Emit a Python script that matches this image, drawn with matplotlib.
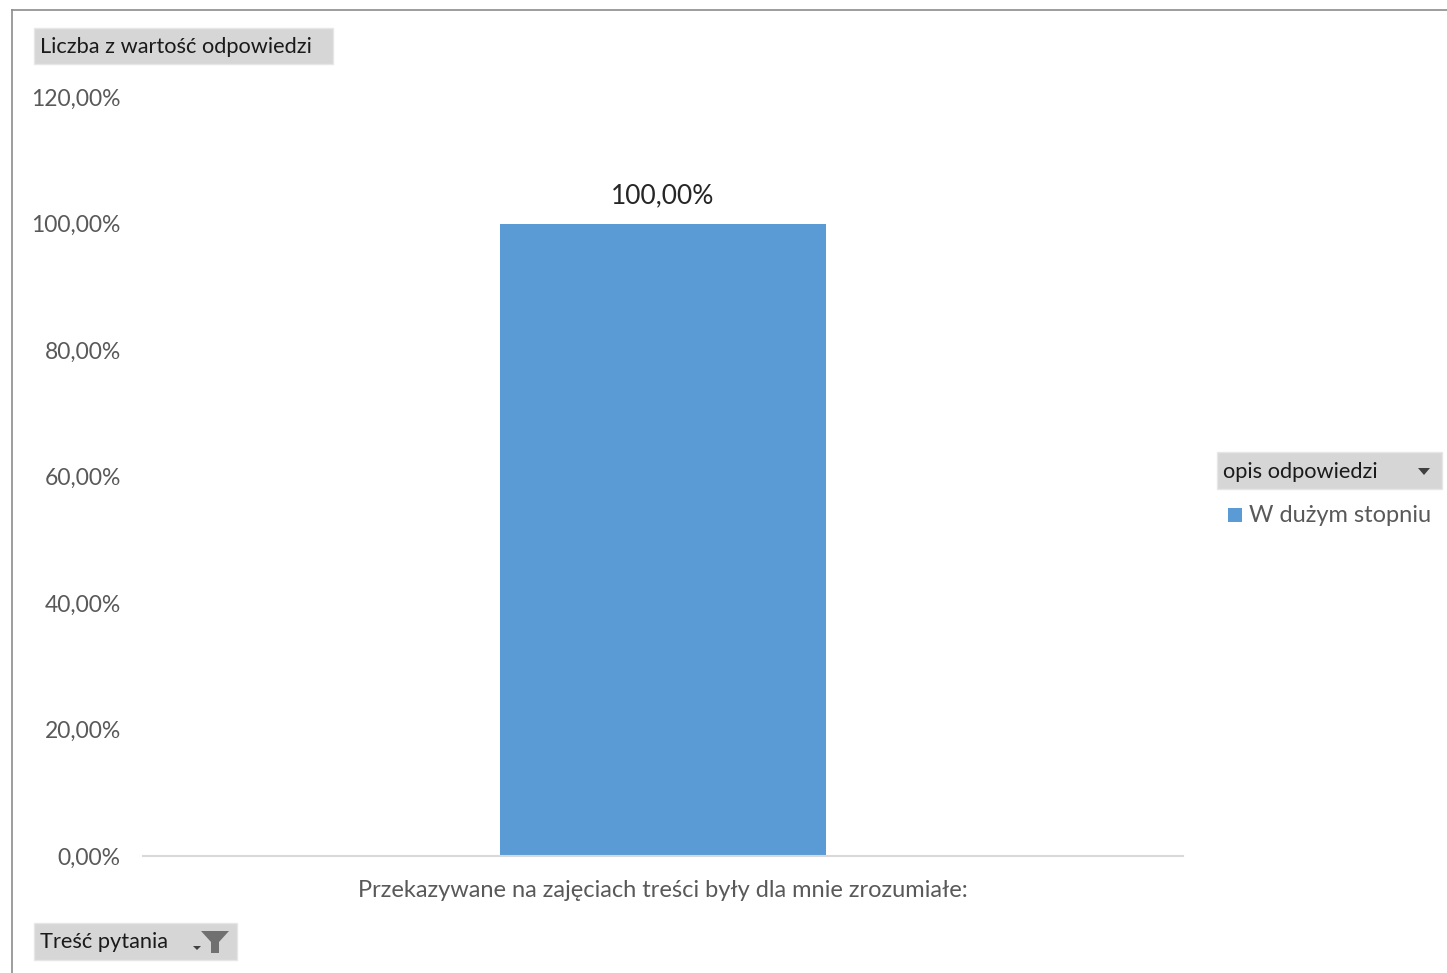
import matplotlib
matplotlib.use("Agg")
import matplotlib.pyplot as plt
from matplotlib.patches import Rectangle, Polygon
from matplotlib.lines import Line2D
from matplotlib.ticker import FuncFormatter
import numpy as np

categories = ["Przekazywane na zajęciach treści były dla mnie zrozumiałe:"]
series_name = "W dużym stopniu"
values = [100.0]
value_label = "Liczba z wartość odpowiedzi"
legend_title = "opis odpowiedzi"
filter_label = "Treść pytania"

W, H = 1447, 973
fig = plt.figure(figsize=(W / 100, H / 100), dpi=100)
plt.rcParams['font.family'] = ['Lato', 'DejaVu Sans']

def fx(px):
    return px / W

def fy(py):
    return 1 - py / H

# outer border
fig.add_artist(Line2D([fx(11.5), fx(11.5)], [fy(9.5), 0], color="#8c8c8c", lw=1.2))
fig.add_artist(Line2D([fx(11.5), 1], [fy(9.5), fy(9.5)], color="#8c8c8c", lw=1.2))

ax = fig.add_axes([fx(143), fy(856), fx(1183) - fx(143), fy(97) - fy(856)])
x = np.arange(len(categories))
bars = ax.bar(x, values, width=0.3144, color="#5b9bd5", zorder=2)
ax.set_xlim(-0.5, 0.5)
ax.set_ylim(0, 120)
ax.set_yticks(np.arange(0, 121, 20))
ax.yaxis.set_major_formatter(FuncFormatter(lambda v, p: f"{v:.2f}".replace(".", ",") + "%"))
ax.set_xticks(x)
ax.set_xticklabels(categories)
for s in ["top", "right", "left"]:
    ax.spines[s].set_visible(False)
ax.spines["bottom"].set_color("#d9d9d9")
ax.spines["bottom"].set_linewidth(1.5)
ax.tick_params(axis="y", length=0, colors="#595959", labelsize=16.5, pad=16)
ax.tick_params(axis="x", length=0, colors="#595959", labelsize=17, pad=17)
for b, v in zip(bars, values):
    ax.annotate(f"{v:.2f}".replace(".", ",") + "%", (b.get_x() + b.get_width() / 2, v),
                xytext=(0, 11), textcoords="offset points", ha="center", va="bottom",
                fontsize=19, color="#262626")

def button(x0, y0, x1, y1, text):
    fig.add_artist(Rectangle((fx(x0), fy(y1)), fx(x1) - fx(x0), fy(y0) - fy(y1),
                             facecolor="#d6d6d6", edgecolor="#e6e6e6", lw=1))
    fig.text(fx(x0 + 6), fy((y0 + y1) / 2 + 1), text, ha="left", va="center",
             fontsize=15.7, color="#1a1a1a")

button(34, 28, 333, 64, value_label)
button(1217, 452, 1442, 489, legend_title)
button(34, 923, 237, 960, filter_label)

# dropdown arrow on legend button
fig.add_artist(Polygon([[fx(1418), fy(468)], [fx(1430), fy(468)], [fx(1424), fy(475)]],
                       closed=True, facecolor="#404040", edgecolor="none"))
# filter icon on filter button
fig.add_artist(Polygon([[fx(201), fy(931)], [fx(229), fy(931)], [fx(219), fy(942)],
                        [fx(219), fy(953)], [fx(211), fy(953)], [fx(211), fy(942)]],
                       closed=True, facecolor="#707070", edgecolor="none"))
fig.add_artist(Polygon([[fx(193), fy(946)], [fx(201), fy(946)], [fx(197), fy(950)]],
                       closed=True, facecolor="#404040", edgecolor="none"))

# legend entry
fig.add_artist(Rectangle((fx(1228), fy(522)), fx(14), fy(508) - fy(522),
                         facecolor="#5b9bd5", edgecolor="none"))
fig.text(fx(1249), fy(516), series_name, ha="left", va="center", fontsize=17, color="#595959")

fig.savefig("out.png", dpi=100)
